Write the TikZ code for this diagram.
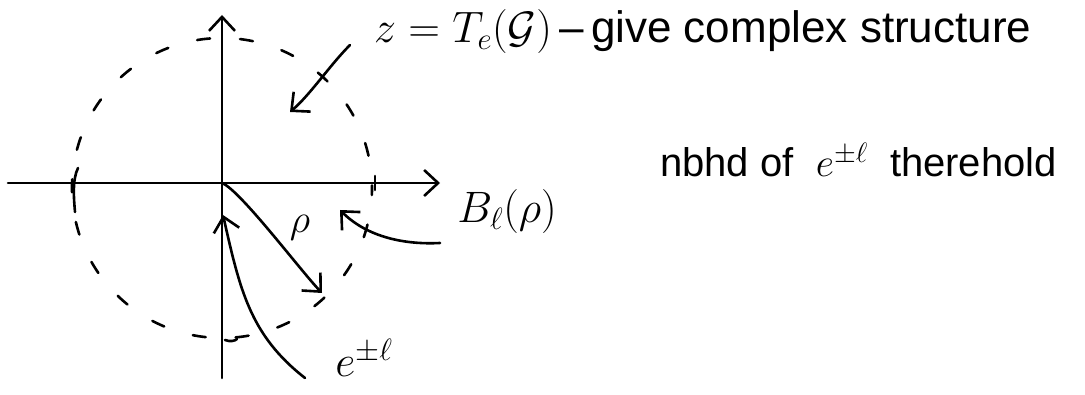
\RequirePackage{fix-cm}
\documentclass[tikz,border=0pt]{standalone}
\usepackage{fontspec}
\setmainfont{Liberation Sans}
\usetikzlibrary{arrows.meta}
\tikzset{
  ink/.style={line width=2.6pt, line cap=round, line join=round},
  barb/.style={-{Straight Barb[length=14pt,width=26pt,line width=2.6pt]}},
  lbl/.style={inner sep=0pt, font=\fontsize{40}{44}\selectfont},
  biglbl/.style={inner sep=0pt, font=\fontsize{44}{48}\selectfont},
}
\begin{document}
\begin{tikzpicture}[x=1pt,y=-1pt]
\useasboundingbox (0,0) rectangle (1085,395);
% axes
\coordinate (xl) at (8,183);
\coordinate (xr) at (440,183);
\coordinate (yb) at (222,378);
\coordinate (yt) at (222,15);
\coordinate (o) at (222,183);
\draw[ink,barb] (xl) -- (xr);
\draw[ink,barb] (yb) -- (yt);
% ticks
\draw[ink] (78,168) .. controls (72,180) and (74,200) .. (75,212);
\draw[ink] (375,176) -- (375,190);
\draw[ink] (225,340) .. controls (230,342) and (235,341) .. (237,339);
% dashed circle
\draw[ink, dash pattern=on 13pt off 30pt, dash phase=6pt] (222,188) ellipse [x radius=150, y radius=150];
% labels
\node[biglbl, anchor=west] (ztext) at (374,32) {$z = T_e(\mathcal{G})$\,--\,give complex structure};
\node[lbl, anchor=west] (nbhd) at (660,160) {nbhd of \ $e^{\pm\ell}$ \ therehold};
\node[biglbl] (bl) at (507,212) {$B_\ell(\rho)$};
\node[lbl] (rho) at (300,228) {$\rho$};
\node[biglbl] (epl) at (364,358) {$e^{\pm\ell}$};
% arrows
\coordinate (za) at (350,45);
\coordinate (zb) at (290,112);
\draw[ink,barb] (za) .. controls (330,65) and (310,95) .. (zb);
\coordinate (rb) at (322,293);
\draw[ink,barb] (o) .. controls (240,190) and (300,270) .. (rb);
\coordinate (ba) at (440,243);
\coordinate (bb) at (340,210);
\draw[ink,barb] (ba) .. controls (400,245) and (365,235) .. (bb);
\coordinate (ea) at (305,378);
\coordinate (eb) at (223,215);
\draw[ink,barb] (ea) .. controls (250,335) and (240,290) .. (eb);
\end{tikzpicture}
\end{document}
